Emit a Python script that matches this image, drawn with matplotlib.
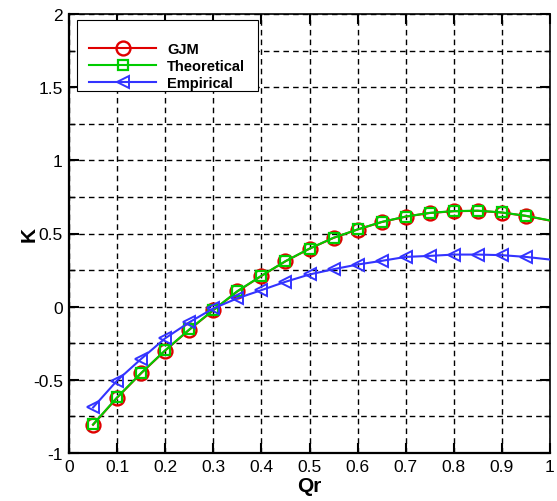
import matplotlib
matplotlib.use("Agg")
import matplotlib.pyplot as plt
from matplotlib.patches import Rectangle
from matplotlib.ticker import MultipleLocator, FuncFormatter

qr = [0.05, 0.10, 0.15, 0.20, 0.25, 0.30, 0.35, 0.40, 0.45, 0.50,
      0.55, 0.60, 0.65, 0.70, 0.75, 0.80, 0.85, 0.90, 0.95, 1.00]
k_gjm = [-0.807, -0.622, -0.455, -0.300, -0.158, -0.025, 0.104, 0.210, 0.310, 0.396,
         0.470, 0.527, 0.578, 0.615, 0.640, 0.652, 0.655, 0.643, 0.620, 0.588]
k_theoretical = [-0.805, -0.620, -0.453, -0.298, -0.156, -0.023, 0.106, 0.211, 0.311, 0.397,
                 0.471, 0.528, 0.579, 0.616, 0.641, 0.653, 0.656, 0.644, 0.621, 0.589]
k_empirical = [-0.689, -0.505, -0.357, -0.216, -0.107, -0.012, 0.057, 0.113, 0.170, 0.220,
               0.256, 0.288, 0.313, 0.340, 0.347, 0.356, 0.356, 0.352, 0.340, 0.322]
labels = ["GJM", "Theoretical", "Empirical"]

W, H = 557, 502
fig = plt.figure(figsize=(W / 100, H / 100), dpi=100)
plt.rcParams['font.family'] = ['Liberation Sans', 'DejaVu Sans']
ax = fig.add_axes([69 / W, 1 - 454 / H, (550 - 69) / W, (454 - 15) / H])

red, green, blue = '#e00000', '#00cc00', '#3333ff'
mk = list(range(len(qr) - 1))
ax.plot(qr, k_gjm, color=red, lw=1.5, marker='o', ms=10, mfc='none', mec=red, mew=1.7,
        markevery=mk, label=labels[0], zorder=3)
ax.plot(qr, k_theoretical, color=green, lw=1.5, marker='s', ms=7.5, mfc='none', mec=green, mew=1.6,
        markevery=mk, label=labels[1], zorder=4)
ax.plot(qr, k_empirical, color=blue, lw=1.5, marker='<', ms=8.5, mfc='none', mec=blue, mew=1.4,
        markevery=mk, label=labels[2], zorder=4)

ax.set_xlim(0, 1)
ax.set_ylim(-1, 2)
ax.xaxis.set_major_locator(MultipleLocator(0.1))
ax.yaxis.set_major_locator(MultipleLocator(0.5))
ax.yaxis.set_minor_locator(MultipleLocator(0.25))
ax.xaxis.set_major_formatter(FuncFormatter(lambda v, p: '%g' % round(v, 2)))
ax.yaxis.set_major_formatter(FuncFormatter(lambda v, p: '%g' % round(v, 2)))

ax.grid(True, which='major', axis='both', color='black', ls=(0, (4, 3)), lw=1.0)
ax.grid(True, which='minor', axis='y', color='black', ls=(0, (4, 3)), lw=1.0)
ax.tick_params(which='major', direction='in', length=7, width=1.5, labelsize=12.5,
               top=True, right=True, color='black')
ax.tick_params(which='minor', direction='in', length=4, width=1.0, top=False, right=True)
ax.tick_params(axis='y', which='major', pad=4.5)
ax.tick_params(axis='x', which='major', pad=4)
for s in ['left', 'bottom']:
    ax.spines[s].set_linewidth(1.6)
for s in ['top', 'right']:
    ax.spines[s].set_linewidth(1.2)

ax.set_xlabel('Qr', fontsize=15, fontweight='bold', labelpad=2)
ax.set_ylabel('K', fontsize=15, fontweight='bold', labelpad=-4)

# legend box
rect = Rectangle((77 / W, 1 - 92 / H), (258 - 77) / W, (92 - 21) / H, transform=fig.transFigure,
                 facecolor='white', edgecolor='black', lw=0.8, zorder=5)
rect.set_clip_on(False)
ax.add_patch(rect)
leg = ax.legend(loc='upper left', bbox_to_anchor=(89 / W, 1 - 43.5 / H), bbox_transform=fig.transFigure,
                frameon=False, prop={'weight': 'bold', 'size': 10.5},
                handlelength=4.6, handletextpad=0.75, labelspacing=0.18, numpoints=1,
                borderaxespad=0, borderpad=0)
leg.set_zorder(6)

fig.savefig('out.png', dpi=100)
